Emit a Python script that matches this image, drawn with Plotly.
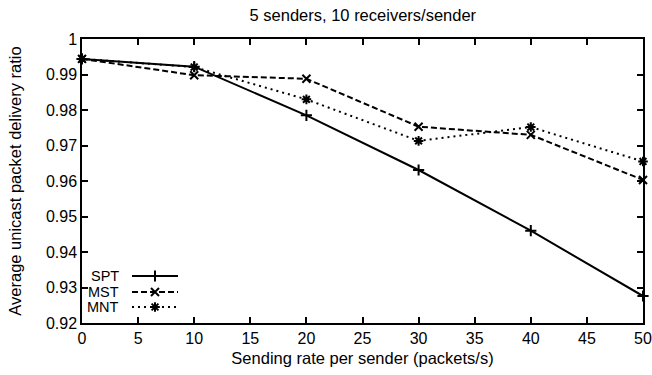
import plotly.graph_objects as go

rates = [0, 10, 20, 30, 40, 50]
spt = [0.9944, 0.9922, 0.9785, 0.9631, 0.9460, 0.9276]
mst = [0.9944, 0.9898, 0.9888, 0.9753, 0.9730, 0.9603]
mnt = [0.9944, 0.9921, 0.9830, 0.9713, 0.9752, 0.9655]
names = ["SPT", "MST", "MNT"]
dashes = ["solid", "6px,3px", "2px,4px"]
symbols = ["cross-thin", "x-thin", "asterisk-open"]
xticks = [0, 5, 10, 15, 20, 25, 30, 35, 40, 45, 50]
yticks = [0.92, 0.93, 0.94, 0.95, 0.96, 0.97, 0.98, 0.99, 1.0]
yticktext = ["0.92", "0.93", "0.94", "0.95", "0.96", "0.97", "0.98", "0.99", "1"]

FONT = "Liberation Sans, Arial, sans-serif"
FS = 16.5
TFS = 16
LFS = 14.5

fig = go.Figure()
for name, ys, d, s in zip(names, [spt, mst, mnt], dashes, symbols):
    fig.add_trace(go.Scatter(
        x=rates, y=ys, mode="lines+markers", name=name,
        line=dict(color="black", width=2, dash=d),
        marker=dict(symbol=s, size=8, color="black", line=dict(color="black", width=2)),
        showlegend=False, cliponaxis=False,
    ))

# manual legend in pixel-like overlay coordinates
leg_rows = [276, 292, 307]
for name, yy, d, s in zip(names, leg_rows, dashes, symbols):
    fig.add_trace(go.Scatter(
        x=[132, 178], y=[yy, yy], mode="lines", xaxis="x2", yaxis="y2",
        line=dict(color="black", width=2, dash=d), showlegend=False, hoverinfo="skip"))
    fig.add_trace(go.Scatter(
        x=[155], y=[yy], mode="markers", xaxis="x2", yaxis="y2",
        marker=dict(symbol=s, size=8, color="black", line=dict(color="black", width=2)),
        showlegend=False, hoverinfo="skip"))
    fig.add_annotation(x=120, y=yy, xref="x2", yref="y2", text=name, showarrow=False,
                       xanchor="right", yanchor="middle", borderpad=0,
                       font=dict(family=FONT, size=LFS, color="black"))

axis_common = dict(showgrid=False, zeroline=False, showline=True, linecolor="black",
                   linewidth=1.5, mirror="ticks", ticks="inside", ticklen=6,
                   tickwidth=1.5, tickcolor="black", automargin=False,
                   tickfont=dict(family=FONT, size=TFS, color="black"))

fig.update_layout(
    width=652, height=375,
    margin=dict(l=82, r=9, t=39, b=52, autoexpand=False),
    paper_bgcolor="white", plot_bgcolor="white",
    title=dict(text="5 senders, 10 receivers/sender", x=0.5565, xanchor="center",
               y=1 - 15 / 375, yanchor="middle", automargin=False,
               font=dict(family=FONT, size=FS, color="black")),
    xaxis=dict(range=[0, 50], tickvals=xticks,
               title=dict(text="Sending rate per sender (packets/s)", standoff=6,
                          font=dict(family=FONT, size=FS, color="black")),
               **axis_common),
    yaxis=dict(range=[0.92, 1.0], tickvals=yticks, ticktext=yticktext,
               title=dict(text="Average unicast packet delivery ratio", standoff=20,
                          font=dict(family=FONT, size=FS, color="black")),
               **axis_common),
    xaxis2=dict(overlaying="x", range=[82, 643], visible=False, fixedrange=True),
    yaxis2=dict(overlaying="y", range=[323, 39], visible=False, fixedrange=True),
)

fig.write_html("out.html", config={"displayModeBar": False},
               post_script="document.body.style.margin='0';")
